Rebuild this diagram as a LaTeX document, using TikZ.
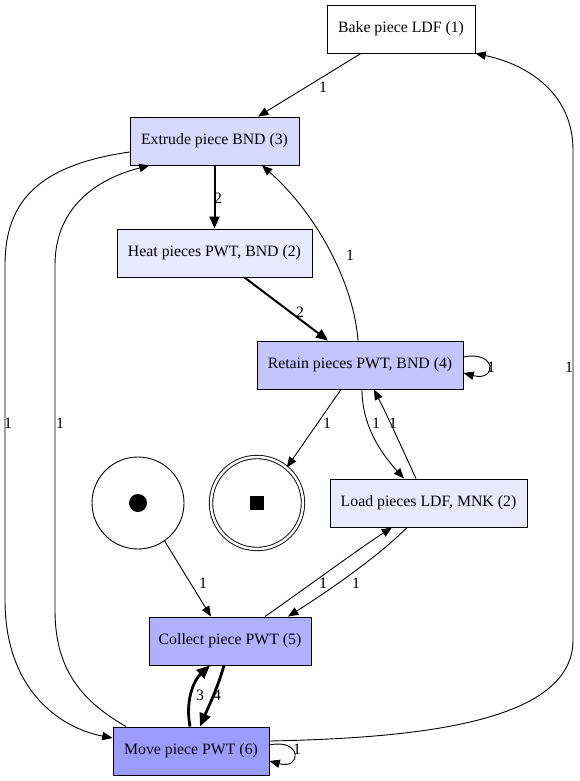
\documentclass[tikz,border=0pt]{standalone}
\usepackage{fontspec}
\setmainfont{Liberation Serif}
\usetikzlibrary{arrows.meta}

\definecolor{fillext}{HTML}{D8D8FF}
\definecolor{fillheat}{HTML}{E8E8FF}
\definecolor{fillret}{HTML}{C4C4FF}
\definecolor{fillcol}{HTML}{B0B0FF}
\definecolor{fillmove}{HTML}{9C9CFF}

\begin{document}
\begin{tikzpicture}[x=1pt,y=-1pt,->,>={Triangle[length=9pt 1.5,width=7pt 1.5]},line width=0.9pt,font=\fontsize{15.8}{18}\selectfont]
  \tikzstyle{trans}=[draw=black,rectangle,minimum height=48pt,inner xsep=2pt]
  \tikzstyle{place}=[draw=black,circle,inner sep=0pt]
  \tikzstyle{weight}=[inner sep=0pt]
  \useasboundingbox (0,0) rectangle (579,781);

  \node[trans,fill=white,minimum width=148pt]    (bake) at (401,29)    {Bake piece LDF (1)};
  \node[trans,fill=fillext,minimum width=169pt]  (ext)  at (214.5,141) {Extrude piece BND (3)};
  \node[trans,fill=fillheat,minimum width=195pt] (heat) at (214.5,253) {Heat pieces PWT, BND (2)};
  \node[trans,fill=fillret,minimum width=206pt]  (ret)  at (360,365)   {Retain pieces PWT, BND (4)};
  \node[trans,fill=fillheat,minimum width=197pt] (load) at (428.5,503) {Load pieces LDF, MNK (2)};
  \node[trans,fill=fillcol,minimum width=162pt]  (col)  at (230,641)   {Collect piece PWT (5)};
  \node[trans,fill=fillmove,minimum width=156pt] (move) at (191,751)   {Move piece PWT (6)};

  \node[place,minimum size=92pt] (start) at (138,503) {};
  \node[circle,fill=black,minimum size=18pt,inner sep=0pt] (startdot) at (start) {};
  \node[place,minimum size=92pt,double,double distance=2.5pt] (fin) at (257,503) {};
  \node[rectangle,fill=black,minimum size=14pt,inner sep=0pt] (finmark) at (fin) {};

  \draw ([xshift=-40pt]bake.south) -- ([xshift=43.5pt]ext.north);
  \draw[line width=2pt] (ext.south) -- (heat.north);
  \draw[line width=2pt] ([xshift=30pt]heat.south) -- ([xshift=-32pt]ret.north);
  \draw ([xshift=-2pt]ret.north) .. controls (354,285) and (318,215) .. ([xshift=47.5pt]ext.south);
  \draw ([yshift=8pt]ret.east) .. controls (497,350) and (497,382) .. ([yshift=-8pt]ret.east);
  \draw ([xshift=-19pt]ret.south) -- (fin.50);
  \draw ([xshift=2pt]ret.south) .. controls (362,425) and (380,452) .. ([xshift=-24.5pt]load.north);
  \draw ([xshift=-12.5pt]load.north) .. controls (402,448) and (387,415) .. ([xshift=14pt]ret.south);
  \draw (start.-55) -- ([xshift=-19pt]col.north);
  \draw ([xshift=35pt]col.north) .. controls (310,585) and (360,548) .. ([xshift=-36.5pt]load.south);
  \draw ([xshift=-21.5pt]load.south) .. controls (380,555) and (330,590) .. ([xshift=58pt]col.north);
  \draw[line width=2.8pt] ([xshift=-6pt]col.south) .. controls (217,690) and (207,710) .. ([xshift=9pt]move.north);
  \draw[line width=2.8pt] ([xshift=-1pt]move.north) .. controls (185,700) and (194,680) .. ([xshift=-20pt]col.south);
  \draw ([yshift=-11pt]ext.west) .. controls (40,165) and (5,200) .. (5,265) -- (5,600)
    .. controls (5,690) and (60,728) .. ([yshift=13pt]move.west);
  \draw ([xshift=-65pt]move.north) .. controls (80,700) and (55,668) .. (55,610) -- (55,265)
    .. controls (55,205) and (100,178) .. ([xshift=20pt]ext.south west);
  \draw ([yshift=10pt]move.east) .. controls (420,738) and (573,722) .. (573,640) -- (573,150)
    .. controls (573,95) and (530,65) .. (bake.south east);
  \draw ([yshift=6pt]move.east) .. controls (302,738) and (302,770) .. ([yshift=-10pt]move.east);

  % arc weights
  \node[weight] (w1)  at (323,87)  {1};
  \node[weight] (w2)  at (218,198) {2};
  \node[weight] (w3)  at (300,312) {2};
  \node[weight] (w4)  at (350,255) {1};
  \node[weight] (w5)  at (491,367) {1};
  \node[weight] (w6)  at (327,423) {1};
  \node[weight] (w7)  at (376,423) {1};
  \node[weight] (w8)  at (393,423) {1};
  \node[weight] (w9)  at (8,423)   {1};
  \node[weight] (w10) at (60,423)  {1};
  \node[weight] (w11) at (569,367) {1};
  \node[weight] (w12) at (203,583) {1};
  \node[weight] (w13) at (323,583) {1};
  \node[weight] (w14) at (356,583) {1};
  \node[weight] (w15) at (200,695) {3};
  \node[weight] (w16) at (217,695) {4};
  \node[weight] (w17) at (297,749) {1};
\end{tikzpicture}
\end{document}
